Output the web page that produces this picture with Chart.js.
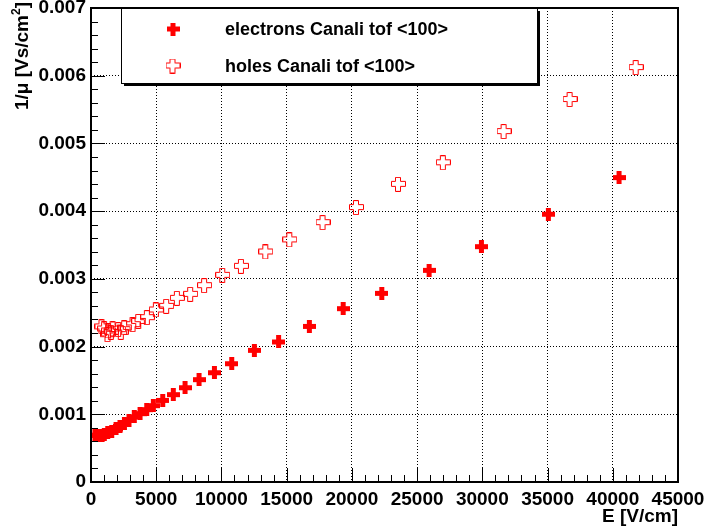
<!DOCTYPE html>
<html>
<head>
<meta charset="utf-8">
<script src="https://cdn.jsdelivr.net/npm/chart.js@4/dist/chart.umd.min.js"></script>
<style>
  html, body { margin: 0; padding: 0; background: #fff; }
  canvas { display: block; }
</style>
</head>
<body>
<canvas id="mobChart" width="706" height="531"></canvas>
<script>
// Données
const elecX = [300, 500, 690, 850, 1020, 1280, 1590, 1920, 2220, 2560, 2910, 3320, 3760, 4270, 4780, 5500, 6310, 7210, 8280, 9460, 10790, 12520, 14380, 16740, 19330, 22290, 25920, 29930, 35060, 40480];
const elecY = [0.00069, 0.00069, 0.000685, 0.00069, 0.0007, 0.000724, 0.000747, 0.000783, 0.000821, 0.000861, 0.00091, 0.00096, 0.001009, 0.001068, 0.001127, 0.001205, 0.00129, 0.001392, 0.001511, 0.001614, 0.001747, 0.001944, 0.002068, 0.002298, 0.00256, 0.002786, 0.003126, 0.003476, 0.003955, 0.004495];
const holeX = [840, 1040, 1300, 1350, 1560, 1690, 2120, 2320, 2580, 3220, 3660, 4320, 5010, 5800, 6620, 7640, 8710, 10100, 11530, 13400, 15240, 17790, 20350, 23570, 27010, 31670, 36730, 41790];
const holeY = [0.00229, 0.00226, 0.002176, 0.00223, 0.00221, 0.00226, 0.00225, 0.00221, 0.002275, 0.002324, 0.002372, 0.002427, 0.002541, 0.002594, 0.002712, 0.002771, 0.0029, 0.003052, 0.003185, 0.003397, 0.003575, 0.00383, 0.004052, 0.004396, 0.004714, 0.005175, 0.005648, 0.00612];
const labels = ['electrons Canali tof <100>', 'holes Canali tof <100>'];
const xTicks = [0, 5000, 10000, 15000, 20000, 25000, 30000, 35000, 40000, 45000];
const yTicks = [0, 0.001, 0.002, 0.003, 0.004, 0.005, 0.006, 0.007];

const FONT = "'Liberation Sans', Arial, Helvetica, sans-serif";

// Marqueurs : croix pleine et croix vide
function fullCross() {
    const c = document.createElement('canvas');
    c.width = 13; c.height = 13;
    const g = c.getContext('2d');
    g.fillStyle = '#ff0000';
    g.fillRect(0, 4, 13, 5);
    g.fillRect(4, 0, 5, 13);
    return c;
}
function openCross() {
    const c = document.createElement('canvas');
    c.width = 15; c.height = 15;
    const g = c.getContext('2d');
    const a = 4.5, b = 9.5, e = 14.5, s = 0.5;
    g.strokeStyle = '#ff0000';
    g.lineWidth = 1;
    g.beginPath();
    g.moveTo(a, s); g.lineTo(b, s); g.lineTo(b, a); g.lineTo(e, a); g.lineTo(e, b);
    g.lineTo(b, b); g.lineTo(b, e); g.lineTo(a, e); g.lineTo(a, b); g.lineTo(s, b);
    g.lineTo(s, a); g.lineTo(a, a); g.closePath();
    g.stroke();
    return c;
}
const markers = [fullCross(), openCross()];

const toPts = (xs, ys) => xs.map((x, i) => ({x: x, y: ys[i]}));

// Cadre, petites graduations, titres des axes et légende
const rootStyle = {
    id: 'rootStyle',
    afterDraw(chart) {
        const ctx = chart.ctx;
        const a = chart.chartArea;
        const xs = chart.scales.x, ys = chart.scales.y;
        ctx.save();
        ctx.strokeStyle = '#000';
        ctx.lineWidth = 1;
        ctx.beginPath();
        for (let v = 0; v <= 45000; v += 1000) {
            const px = Math.round(xs.getPixelForValue(v)) + 0.5;
            const len = v % 5000 === 0 ? 14 : 7;
            ctx.moveTo(px, a.bottom); ctx.lineTo(px, a.bottom - len);
        }
        for (let k = 0; k <= 35; k++) {
            const py = Math.round(ys.getPixelForValue(k * 0.0002)) + 0.5;
            const len = k % 5 === 0 ? 14 : 7;
            ctx.moveTo(a.left, py); ctx.lineTo(a.left + len, py);
        }
        ctx.stroke();

        ctx.lineWidth = 2;
        ctx.strokeRect(a.left, a.top, a.right - a.left, a.bottom - a.top);

        // titre axe X
        ctx.fillStyle = '#000';
        ctx.font = 'bold 19px ' + FONT;
        ctx.textAlign = 'right';
        ctx.textBaseline = 'alphabetic';
        ctx.fillText('E [V/cm]', a.right, 522);

        // titre axe Y avec exposant
        const p1 = '1/\u03bc [Vs/cm', p3 = ']';
        ctx.font = 'bold 19px ' + FONT;
        const w1 = ctx.measureText(p1).width, w3 = ctx.measureText(p3).width;
        ctx.font = 'bold 12px ' + FONT;
        const w2 = ctx.measureText('2').width;
        const W = w1 + w2 + w3;
        ctx.translate(28, 2 + W);
        ctx.rotate(-Math.PI / 2);
        ctx.textAlign = 'left';
        ctx.font = 'bold 19px ' + FONT;
        ctx.fillText(p1, 0, 0);
        ctx.font = 'bold 12px ' + FONT;
        ctx.fillText('2', w1, -8);
        ctx.font = 'bold 19px ' + FONT;
        ctx.fillText(p3, w1 + w2, 0);
        ctx.setTransform(1, 0, 0, 1, 0, 0);

        // légende
        const lx = 121, ly = 8, lw = 416, lh = 75;
        ctx.fillStyle = '#000';
        ctx.fillRect(lx + 3, ly + 3, lw, lh);
        ctx.fillStyle = '#fff';
        ctx.fillRect(lx, ly, lw, lh);
        ctx.lineWidth = 1;
        ctx.strokeStyle = '#000';
        ctx.strokeRect(lx + 0.5, ly + 0.5, lw, lh);
        ctx.font = 'bold 18px ' + FONT;
        ctx.textAlign = 'left';
        ctx.textBaseline = 'middle';
        ctx.fillStyle = '#000';
        chart.data.datasets.forEach((ds, i) => {
            const cy = ly + 21 + i * 37;
            const m = ds.pointStyle;
            ctx.drawImage(m, 173 - m.width / 2, cy - m.height / 2);
            ctx.fillText(ds.label, 225, cy + 1);
        });
        ctx.restore();
    }
};

new Chart(document.getElementById('mobChart'), {
    type: 'scatter',
    data: {
        datasets: [{
            label: labels[0],
            data: toPts(elecX, elecY),
            pointStyle: markers[0],
            pointRadius: 7,
            borderColor: '#ff0000',
            backgroundColor: '#ff0000'
        }, {
            label: labels[1],
            data: toPts(holeX, holeY),
            pointStyle: markers[1],
            pointRadius: 7,
            borderColor: '#ff0000',
            backgroundColor: '#ff0000'
        }]
    },
    options: {
        responsive: false,
        animation: false,
        devicePixelRatio: 1,
        layout: { padding: { top: 8, right: 28, left: 0, bottom: 0 } },
        plugins: { legend: { display: false }, tooltip: { enabled: false } },
        scales: {
            x: {
                type: 'linear',
                min: 0, max: 45000,
                afterBuildTicks: s => { s.ticks = xTicks.map(v => ({value: v})); },
                afterFit: s => { s.height = 49; s.paddingLeft = 0; s.paddingRight = 0; },
                ticks: {
                    color: '#000',
                    font: { family: FONT, size: 19, weight: 'bold' },
                    maxRotation: 0,
                    padding: 6,
                    callback: v => String(v)
                },
                grid: { color: '#000', lineWidth: 1, drawTicks: false },
                border: { display: false, dash: [1, 2] }
            },
            y: {
                min: 0, max: 0.007,
                afterBuildTicks: s => { s.ticks = yTicks.map(v => ({value: v})); },
                afterFit: s => { s.width = 91; s.paddingTop = 0; s.paddingBottom = 0; },
                ticks: {
                    color: '#000',
                    font: { family: FONT, size: 19, weight: 'bold' },
                    padding: 5,
                    callback: v => v === 0 ? '0' : v.toFixed(3)
                },
                grid: { color: '#000', lineWidth: 1, drawTicks: false },
                border: { display: false, dash: [1, 2] }
            }
        }
    },
    plugins: [rootStyle]
});
</script>
</body>
</html>
